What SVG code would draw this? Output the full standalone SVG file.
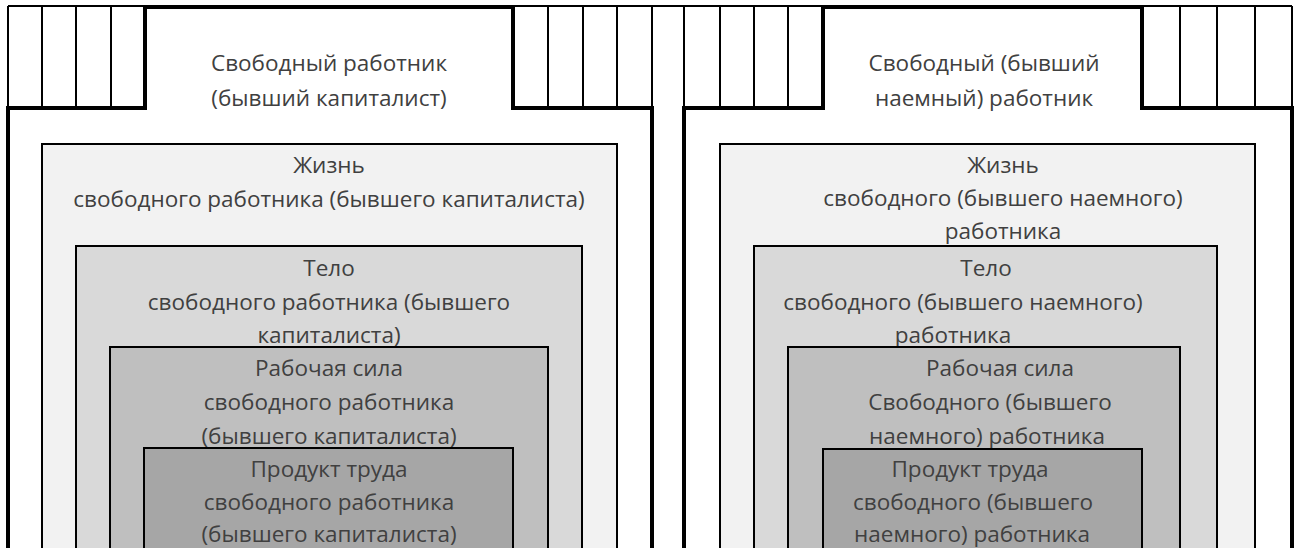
<svg xmlns="http://www.w3.org/2000/svg" width="1298" height="548" viewBox="0 0 1298 548">
<style>
.t{font-family:"Open Sans","Liberation Sans",sans-serif;font-size:22.5px;font-weight:400;fill:#404040;text-anchor:middle}
.thin{stroke:#000;stroke-width:2;fill:none}
.thick{stroke:#000;stroke-width:4;fill:none}
.b{stroke:#000;stroke-width:2}
.l1{fill:#f2f2f2}.l2{fill:#d9d9d9}.l3{fill:#bfbfbf}.l4{fill:#a6a6a6}
</style>
<rect width="1298" height="548" fill="#fff"/>
<g id="connectors"></g>
<g id="frame-left">
<line class="thin" x1="8" y1="6" x2="145" y2="6"/>
<line class="thin" x1="513" y1="6" x2="684" y2="6"/>
<line class="thin" x1="42" y1="6" x2="42" y2="108"/>
<line class="thin" x1="76" y1="6" x2="76" y2="108"/>
<line class="thin" x1="111" y1="6" x2="111" y2="108"/>
<line class="thin" x1="548" y1="6" x2="548" y2="108"/>
<line class="thin" x1="583" y1="6" x2="583" y2="108"/>
<line class="thin" x1="617" y1="6" x2="617" y2="108"/>
<line class="thin" x1="8" y1="6" x2="8" y2="108"/>
<line class="thin" x1="652" y1="6" x2="652" y2="108"/>
<polyline class="thick" points="8,548 8,108 145,108 145,7 513,7 513,108 652,108 652,548"/>
</g>
<g id="frame-right">
<line class="thin" x1="823" y1="6" x2="684" y2="6"/>
<line class="thin" x1="1142" y1="6" x2="1292" y2="6"/>
<line class="thin" x1="684" y1="6" x2="684" y2="108"/>
<line class="thin" x1="720" y1="6" x2="720" y2="108"/>
<line class="thin" x1="754" y1="6" x2="754" y2="108"/>
<line class="thin" x1="788" y1="6" x2="788" y2="108"/>
<line class="thin" x1="1180" y1="6" x2="1180" y2="108"/>
<line class="thin" x1="1217" y1="6" x2="1217" y2="108"/>
<line class="thin" x1="1255" y1="6" x2="1255" y2="108"/>
<line class="thin" x1="1292" y1="6" x2="1292" y2="108"/>
<polyline class="thick" points="684,548 684,108 823,108 823,7 1142,7 1142,108 1292,108 1292,548"/>
</g>
<g id="header-left">
<text class="t" x="329" y="71">Свободный работник</text>
<text class="t" x="329" y="106">(бывший капиталист)</text>
</g>
<g id="header-right">
<text class="t" x="984" y="71">Свободный (бывший</text>
<text class="t" x="984" y="106">наемный) работник</text>
</g>
<g id="life-left">
<rect class="l1 b" x="42" y="144" width="575" height="410"/>
<text class="t" x="329" y="173">Жизнь</text>
<text class="t" x="329" y="207">свободного работника (бывшего капиталиста)</text>
</g>
<g id="body-left">
<rect class="l2 b" x="76" y="246" width="506" height="310"/>
<text class="t" x="329" y="276">Тело</text>
<text class="t" x="329" y="310">свободного работника (бывшего</text>
<text class="t" x="329" y="343">капиталиста)</text>
</g>
<g id="labor-left">
<rect class="l3 b" x="110" y="347" width="438" height="210"/>
<text class="t" x="329" y="376">Рабочая сила</text>
<text class="t" x="329" y="410">свободного работника</text>
<text class="t" x="329" y="444">(бывшего капиталиста)</text>
</g>
<g id="product-left">
<rect class="l4 b" x="144" y="448" width="369" height="110"/>
<text class="t" x="329" y="477">Продукт труда</text>
<text class="t" x="329" y="510">свободного работника</text>
<text class="t" x="329" y="542">(бывшего капиталиста)</text>
</g>
<g id="life-right">
<rect class="l1 b" x="720" y="144" width="535" height="410"/>
<text class="t" x="1003" y="173">Жизнь</text>
<text class="t" x="1003" y="206">свободного (бывшего наемного)</text>
<text class="t" x="1003" y="239">работника</text>
</g>
<g id="body-right">
<rect class="l2 b" x="754" y="246" width="463" height="310"/>
<text class="t" x="986" y="276">Тело</text>
<text class="t" x="963" y="310">свободного (бывшего наемного)</text>
<text class="t" x="953" y="343">работника</text>
</g>
<g id="labor-right">
<rect class="l3 b" x="788" y="347" width="392" height="210"/>
<text class="t" x="1000" y="376">Рабочая сила</text>
<text class="t" x="990" y="410">Свободного (бывшего</text>
<text class="t" x="987" y="444">наемного) работника</text>
</g>
<g id="product-right">
<rect class="l4 b" x="823" y="449" width="319" height="110"/>
<text class="t" x="970" y="477">Продукт труда</text>
<text class="t" x="973" y="510">свободного (бывшего</text>
<text class="t" x="972" y="542">наемного) работника</text>
</g>
</svg>
